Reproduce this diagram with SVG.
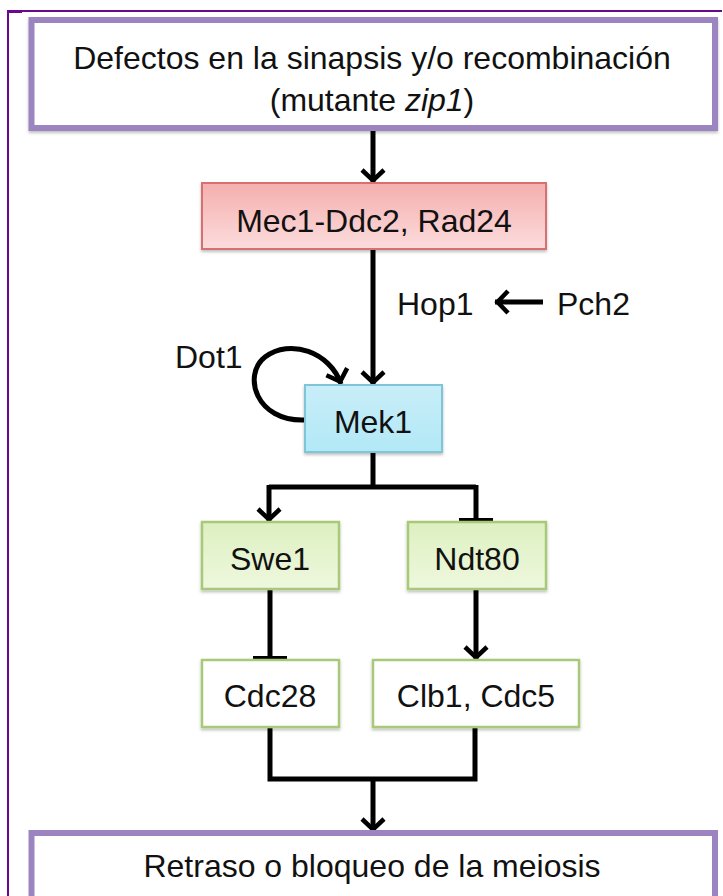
<svg xmlns="http://www.w3.org/2000/svg" width="723" height="896" viewBox="0 0 723 896">
<style>
text{font-family:"Liberation Sans",Arial,sans-serif;font-size:32px;fill:#111;}
.c{text-anchor:middle;}
.big{fill:#fff;stroke:#9c84c0;stroke-width:6;}
.red{fill:url(#gRed);stroke:#d77070;stroke-width:2;}
.blue{fill:url(#gBlue);stroke:#7ec5d8;stroke-width:2;}
.green{fill:url(#gGreen);stroke:#a9c97a;stroke-width:2.5;}
.white{fill:#fff;stroke:#a9c97a;stroke-width:2.5;}
.ln{fill:none;stroke:#000;stroke-width:5;}
</style>
<defs>
<linearGradient id="gRed" x1="0" y1="0" x2="0" y2="1"><stop offset="0" stop-color="#f5aeae"/><stop offset="1" stop-color="#fcdcdc"/></linearGradient>
<linearGradient id="gBlue" x1="0" y1="0" x2="0" y2="1"><stop offset="0" stop-color="#c8eef8"/><stop offset="1" stop-color="#b2e8f6"/></linearGradient>
<linearGradient id="gGreen" x1="0" y1="0" x2="0" y2="1"><stop offset="0" stop-color="#ddf0c0"/><stop offset="1" stop-color="#eef8de"/></linearGradient>
<filter id="sh" x="-10%" y="-10%" width="120%" height="130%"><feDropShadow dx="0" dy="2" stdDeviation="1.5" flood-color="#000" flood-opacity="0.25"/></filter>
<marker id="arr" viewBox="-18 -14 20 28" refX="0" refY="0" markerWidth="20" markerHeight="28" markerUnits="userSpaceOnUse" orient="auto">
<path d="M-13,-11 L-2.5,0 L-13,11" fill="none" stroke="#000" stroke-width="4.5"/>
</marker>
<marker id="bar" viewBox="-4 -18 6 36" refX="0" refY="0" markerWidth="6" markerHeight="36" markerUnits="userSpaceOnUse" orient="auto">
<path d="M-1.5,-17 L-1.5,17" stroke="#000" stroke-width="5"/>
</marker>
</defs>
<rect width="723" height="896" fill="#fff"/>
<g id="frame" stroke="#6a0a8a" fill="none">
<path d="M7,11 H722" stroke-width="2"/>
<path d="M8,11 V896" stroke-width="2"/>
<path d="M7,11.5 H22" stroke-width="3"/>
</g>
<g id="connectors">
<path class="ln" d="M373,129 V183" marker-end="url(#arr)"/>
<path class="ln" d="M373,249 V385" marker-end="url(#arr)"/>
<path class="ln" d="M543,302 H495" stroke-width="4" marker-end="url(#arr)"/>
<path class="ln" stroke-width="4.5" d="M305,420 C256,422 242,375 265,357 C290,338 330,352 341,384" marker-end="url(#arr)"/>
<path class="ln" d="M373,452 V487"/>
<path class="ln" d="M269,487 H476"/>
<path class="ln" d="M269,485 V522" marker-end="url(#arr)"/>
<path class="ln" d="M476,485 V522" marker-end="url(#bar)"/>
<path class="ln" d="M270,589 V660" marker-end="url(#bar)"/>
<path class="ln" d="M476,589 V660" marker-end="url(#arr)"/>
<path class="ln" d="M270,727 V779 H475 V727"/>
<path class="ln" d="M373,779 V832" marker-end="url(#arr)"/>
</g>
<g id="n-defectos">
<rect class="big" x="31.5" y="20" width="683.5" height="108" filter="url(#sh)"/>
<text class="c" x="372" y="69">Defectos en la sinapsis y/o recombinación</text>
<text class="c" x="372" y="111">(mutante <tspan font-style="italic">zip1</tspan>)</text>
</g>
<g id="n-mec1">
<rect class="red" x="202" y="183" width="344" height="66" filter="url(#sh)"/>
<text class="c" x="374" y="232">Mec1-Ddc2, Rad24</text>
</g>
<g id="n-hop1"><text x="397" y="315">Hop1</text></g>
<g id="n-pch2"><text x="557" y="315">Pch2</text></g>
<g id="n-dot1"><text x="175" y="368">Dot1</text></g>
<g id="n-mek1">
<rect class="blue" x="305" y="385" width="137" height="67" filter="url(#sh)"/>
<text class="c" x="373" y="433">Mek1</text>
</g>
<g id="n-swe1">
<rect class="green" x="202" y="522" width="137" height="67" filter="url(#sh)"/>
<text class="c" x="270" y="570">Swe1</text>
</g>
<g id="n-ndt80">
<rect class="green" x="408" y="522" width="138" height="67" filter="url(#sh)"/>
<text class="c" x="477" y="570">Ndt80</text>
</g>
<g id="n-cdc28">
<rect class="white" x="202" y="660" width="137" height="67" filter="url(#sh)"/>
<text class="c" x="270" y="707">Cdc28</text>
</g>
<g id="n-clb1">
<rect class="white" x="373" y="660" width="206" height="67" filter="url(#sh)"/>
<text class="c" x="476" y="707">Clb1, Cdc5</text>
</g>
<g id="n-retraso">
<rect class="big" x="31.5" y="833" width="683.5" height="90"/>
<text class="c" x="372" y="877">Retraso o bloqueo de la meiosis</text>
</g>
</svg>
